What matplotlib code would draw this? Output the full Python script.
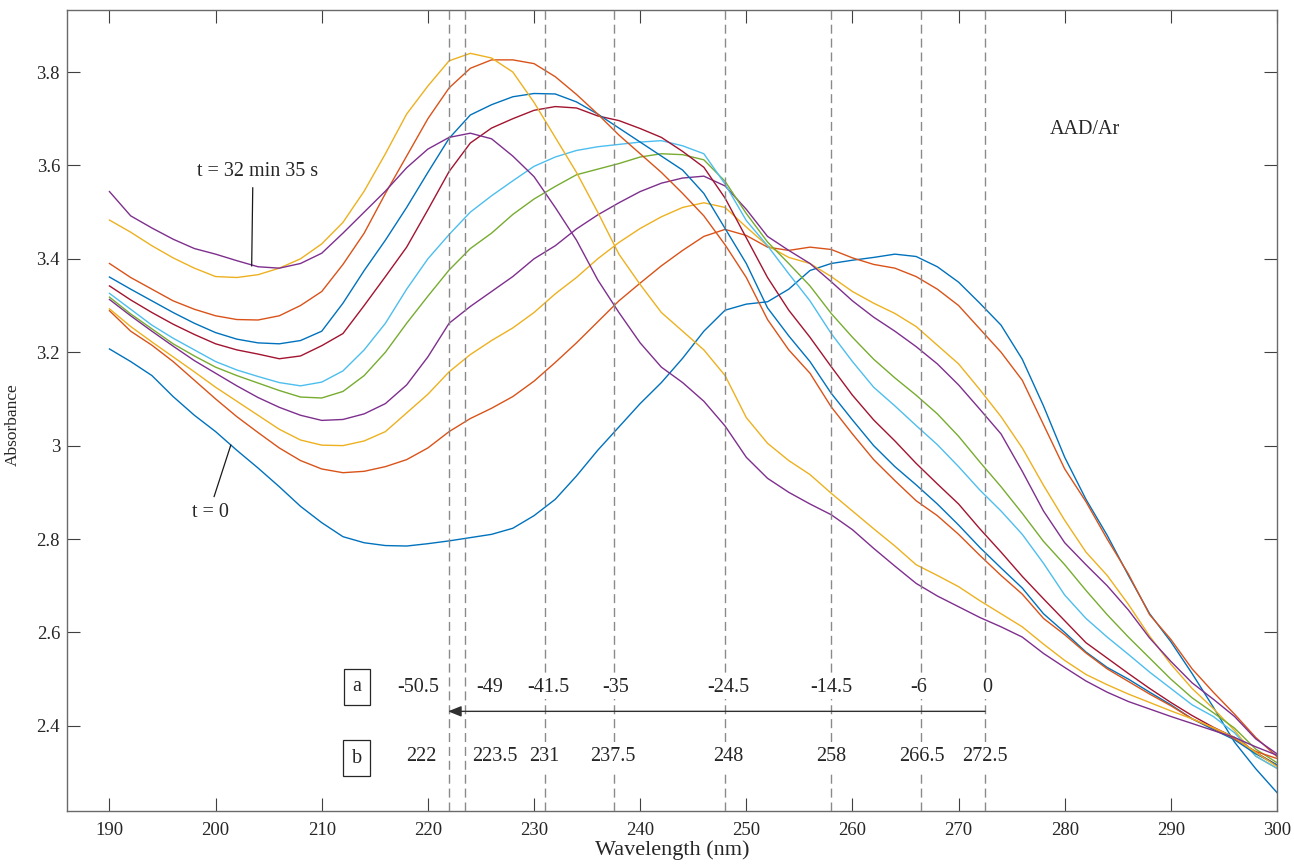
import matplotlib
matplotlib.use("Agg")
import matplotlib.pyplot as plt

plt.rcParams['font.family'] = ['Liberation Serif', 'DejaVu Serif']

# ---------------- data ----------------
wavelength = list(range(190, 301, 2))

s01 = [3.207, 3.180, 3.150, 3.105, 3.065, 3.030, 2.990, 2.952, 2.912, 2.870,
       2.835, 2.805, 2.792, 2.786, 2.785, 2.790, 2.796, 2.803, 2.810, 2.823,
       2.850, 2.885, 2.935, 2.990, 3.040, 3.090, 3.135, 3.187, 3.245, 3.290,
       3.303, 3.308, 3.335, 3.375, 3.390, 3.397, 3.403, 3.410, 3.405, 3.383,
       3.350, 3.305, 3.258, 3.185, 3.085, 2.975, 2.885, 2.808, 2.722, 2.640,
       2.580, 2.512, 2.440, 2.365, 2.308, 2.257]
s02 = [3.289, 3.245, 3.215, 3.180, 3.140, 3.100, 3.062, 3.028, 2.995, 2.968,
       2.950, 2.942, 2.945, 2.955, 2.970, 2.995, 3.030, 3.058, 3.080, 3.105,
       3.138, 3.178, 3.220, 3.265, 3.310, 3.348, 3.385, 3.418, 3.448, 3.463,
       3.450, 3.425, 3.418, 3.425, 3.420, 3.402, 3.388, 3.380, 3.362, 3.335,
       3.300, 3.250, 3.200, 3.140, 3.045, 2.950, 2.880, 2.800, 2.725, 2.638,
       2.585, 2.522, 2.472, 2.425, 2.375, 2.334]
s03 = [3.293, 3.255, 3.222, 3.190, 3.158, 3.125, 3.095, 3.065, 3.035, 3.012,
       3.001, 3.000, 3.010, 3.030, 3.070, 3.110, 3.158, 3.195, 3.225, 3.252,
       3.285, 3.325, 3.360, 3.400, 3.435, 3.465, 3.490, 3.510, 3.520, 3.510,
       3.468, 3.428, 3.403, 3.390, 3.362, 3.330, 3.305, 3.283, 3.255, 3.215,
       3.175, 3.120, 3.062, 2.995, 2.915, 2.840, 2.772, 2.722, 2.660, 2.592,
       2.532, 2.480, 2.437, 2.390, 2.335, 2.309]
s04 = [3.313, 3.278, 3.245, 3.213, 3.182, 3.155, 3.128, 3.103, 3.082, 3.065,
       3.054, 3.056, 3.068, 3.090, 3.130, 3.190, 3.262, 3.298, 3.330, 3.362,
       3.400, 3.428, 3.464, 3.494, 3.520, 3.544, 3.562, 3.573, 3.577, 3.556,
       3.506, 3.448, 3.418, 3.390, 3.351, 3.310, 3.275, 3.245, 3.212, 3.175,
       3.130, 3.078, 3.025, 2.945, 2.860, 2.792, 2.745, 2.700, 2.648, 2.588,
       2.538, 2.492, 2.457, 2.420, 2.372, 2.340]
s05 = [3.318, 3.282, 3.250, 3.218, 3.192, 3.168, 3.150, 3.134, 3.118, 3.104,
       3.102, 3.116, 3.150, 3.200, 3.262, 3.320, 3.376, 3.422, 3.455, 3.495,
       3.528, 3.555, 3.580, 3.592, 3.604, 3.618, 3.625, 3.623, 3.612, 3.566,
       3.497, 3.436, 3.390, 3.342, 3.283, 3.232, 3.185, 3.145, 3.108, 3.068,
       3.020, 2.965, 2.912, 2.855, 2.795, 2.745, 2.690, 2.638, 2.590, 2.545,
       2.500, 2.460, 2.428, 2.395, 2.350, 2.321]
s06 = [3.326, 3.292, 3.258, 3.230, 3.205, 3.180, 3.162, 3.148, 3.135, 3.128,
       3.136, 3.160, 3.205, 3.262, 3.335, 3.400, 3.452, 3.500, 3.535, 3.567,
       3.598, 3.618, 3.632, 3.640, 3.645, 3.650, 3.653, 3.642, 3.625, 3.560,
       3.482, 3.428, 3.368, 3.310, 3.240, 3.180, 3.125, 3.085, 3.043, 3.002,
       2.955, 2.905, 2.860, 2.810, 2.748, 2.680, 2.630, 2.590, 2.553, 2.515,
       2.480, 2.445, 2.420, 2.385, 2.335, 2.309]
s07 = [3.342, 3.312, 3.285, 3.260, 3.238, 3.218, 3.205, 3.196, 3.186, 3.192,
       3.214, 3.240, 3.300, 3.362, 3.425, 3.505, 3.587, 3.648, 3.680, 3.700,
       3.718, 3.726, 3.723, 3.706, 3.696, 3.679, 3.660, 3.630, 3.596, 3.530,
       3.445, 3.360, 3.290, 3.232, 3.169, 3.108, 3.055, 3.010, 2.962, 2.918,
       2.875, 2.822, 2.772, 2.720, 2.672, 2.625, 2.578, 2.545, 2.512, 2.480,
       2.450, 2.422, 2.397, 2.375, 2.343, 2.316]
s08 = [3.361, 3.335, 3.310, 3.285, 3.262, 3.242, 3.228, 3.220, 3.218, 3.225,
       3.245, 3.305, 3.375, 3.440, 3.510, 3.585, 3.658, 3.708, 3.730, 3.747,
       3.754, 3.753, 3.736, 3.710, 3.680, 3.650, 3.620, 3.590, 3.540, 3.465,
       3.390, 3.295, 3.235, 3.180, 3.112, 3.055, 3.000, 2.955, 2.916, 2.875,
       2.830, 2.782, 2.738, 2.695, 2.640, 2.600, 2.558, 2.525, 2.500, 2.472,
       2.445, 2.415, 2.392, 2.370, 2.340, 2.316]
s09 = [3.390, 3.360, 3.335, 3.310, 3.292, 3.278, 3.270, 3.269, 3.278, 3.300,
       3.330, 3.388, 3.455, 3.540, 3.620, 3.700, 3.766, 3.808, 3.826, 3.826,
       3.818, 3.790, 3.752, 3.710, 3.665, 3.625, 3.585, 3.540, 3.492, 3.430,
       3.360, 3.270, 3.205, 3.155, 3.083, 3.025, 2.970, 2.925, 2.882, 2.850,
       2.810, 2.765, 2.722, 2.682, 2.630, 2.595, 2.556, 2.522, 2.495, 2.468,
       2.443, 2.415, 2.395, 2.372, 2.345, 2.330]
s10 = [3.483, 3.457, 3.428, 3.402, 3.380, 3.362, 3.360, 3.366, 3.380, 3.400,
       3.432, 3.478, 3.545, 3.625, 3.710, 3.770, 3.824, 3.840, 3.830, 3.800,
       3.735, 3.660, 3.585, 3.500, 3.410, 3.345, 3.285, 3.245, 3.205, 3.150,
       3.060, 3.005, 2.968, 2.938, 2.898, 2.860, 2.822, 2.785, 2.745, 2.722,
       2.698, 2.668, 2.640, 2.612, 2.575, 2.540, 2.510, 2.488, 2.468, 2.450,
       2.432, 2.415, 2.396, 2.375, 2.343, 2.313]
s11 = [3.544, 3.492, 3.466, 3.442, 3.422, 3.410, 3.396, 3.383, 3.380, 3.390,
       3.412, 3.455, 3.500, 3.545, 3.595, 3.635, 3.660, 3.669, 3.657, 3.620,
       3.576, 3.510, 3.440, 3.355, 3.285, 3.220, 3.168, 3.135, 3.095, 3.042,
       2.975, 2.930, 2.900, 2.875, 2.852, 2.820, 2.780, 2.742, 2.705, 2.678,
       2.655, 2.632, 2.612, 2.590, 2.555, 2.525, 2.496, 2.472, 2.452, 2.436,
       2.420, 2.405, 2.390, 2.375, 2.355, 2.337]
spectra = [s01, s02, s03, s04, s05, s06, s07, s08, s09, s10, s11]

marker_wl = [222, 223.5, 231, 237.5, 248, 258, 266.5, 272.5]
row_a_labels = ['-50.5', '-49', '-41.5', '-35', '-24.5', '-14.5', '-6', '0']
row_b_labels = ['222', '223.5', '231', '237.5', '248', '258', '266.5', '272.5']

xticks = [190, 200, 210, 220, 230, 240, 250, 260, 270, 280, 290, 300]
yticks = [2.4, 2.6, 2.8, 3.0, 3.2, 3.4, 3.6, 3.8]
ytick_labels = ['2.4', '2.6', '2.8', '3', '3.2', '3.4', '3.6', '3.8']

# ---------------- layout / style ----------------
row_a_x = [219.1, 225.8, 231.3, 237.7, 248.3, 258.0, 266.2, 272.7]
row_b_x = [219.4, 226.3, 231.0, 237.4, 248.3, 258.0, 266.5, 272.5]
row_a_y, row_b_y, arrow_y = 2.482, 2.335, 2.431

colors = [(0, 0.447, 0.741), (0.85, 0.325, 0.098), (0.929, 0.694, 0.125),
          (0.494, 0.184, 0.556), (0.466, 0.674, 0.188), (0.301, 0.745, 0.933),
          (0.635, 0.078, 0.184)]
txt = '#262626'

fig = plt.figure(figsize=(12.94, 8.67), dpi=100)
ax = fig.add_axes([67 / 1294, 56 / 867, 1210 / 1294, 801 / 867])

for i, s in enumerate(spectra):
    ax.plot(wavelength, s, color=colors[i % len(colors)], lw=1.0, zorder=2)

for w in marker_wl:
    ax.axvline(w, color='#8a8a8a', lw=1.0, ls=(0, (6.5, 3.5)), zorder=3)

ax.set_xlim(186, 300)
ax.set_ylim(2.2176, 3.9328)
ax.set_xticks(xticks)
ax.set_yticks(yticks)
ax.set_yticklabels(ytick_labels)
ax.tick_params(direction='in', length=9.5, width=0.8, top=True, right=True,
               labelsize=13.5, colors='#404040', labelcolor=txt)
ax.tick_params(axis='x', pad=8)
ax.tick_params(axis='y', pad=5)
for sp in ax.spines.values():
    sp.set_color('#6a6a6a')
    sp.set_linewidth(1.0)

ax.set_xlabel('Wavelength (nm)', fontsize=16, color=txt)
ax.xaxis.set_label_coords(0.5, -0.036)
ax.set_ylabel('Absorbance', fontsize=12.5, color=txt)
ax.yaxis.set_label_coords(-0.0385, 0.482)

# row labels with white background
for x, s in zip(row_a_x, row_a_labels):
    ax.text(x, row_a_y, s, ha='center', va='center', fontsize=14.5, color=txt,
            bbox=dict(fc='white', ec='none', pad=1.5), zorder=5)
for x, s in zip(row_b_x, row_b_labels):
    ax.text(x, row_b_y, s, ha='center', va='center', fontsize=14.5, color=txt,
            bbox=dict(fc='white', ec='none', pad=3), zorder=5)

# boxed row keys
for y, s in [(2.484, 'a'), (2.331, 'b')]:
    ax.text(213.3, y, s, ha='center', va='center', fontsize=14.5, color=txt,
            bbox=dict(boxstyle='square,pad=0.42', fc='white', ec='#262626', lw=0.9),
            zorder=5)

# shift arrow
ax.annotate('', xy=(221.9, arrow_y), xytext=(272.5, arrow_y),
            arrowprops=dict(arrowstyle='-|>,head_length=0.5,head_width=0.2',
                            color='#303030', lw=1.0, shrinkA=0, shrinkB=0,
                            mutation_scale=16), zorder=6)

# time annotations
ax.plot([203.5, 203.4], [3.552, 3.385], color='#1a1a1a', lw=0.9, zorder=4)
ax.text(204.0, 3.587, 't = 32 min 35 s', ha='center', va='center', fontsize=14.5, color=txt)
ax.plot([199.86, 201.43], [2.891, 3.001], color='#1a1a1a', lw=0.9, zorder=4)
ax.text(199.55, 2.857, 't = 0', ha='center', va='center', fontsize=14.5, color=txt)

ax.text(281.9, 3.677, 'AAD/Ar', ha='center', va='center', fontsize=14.5, color=txt)

fig.savefig('out.png', dpi=100)
